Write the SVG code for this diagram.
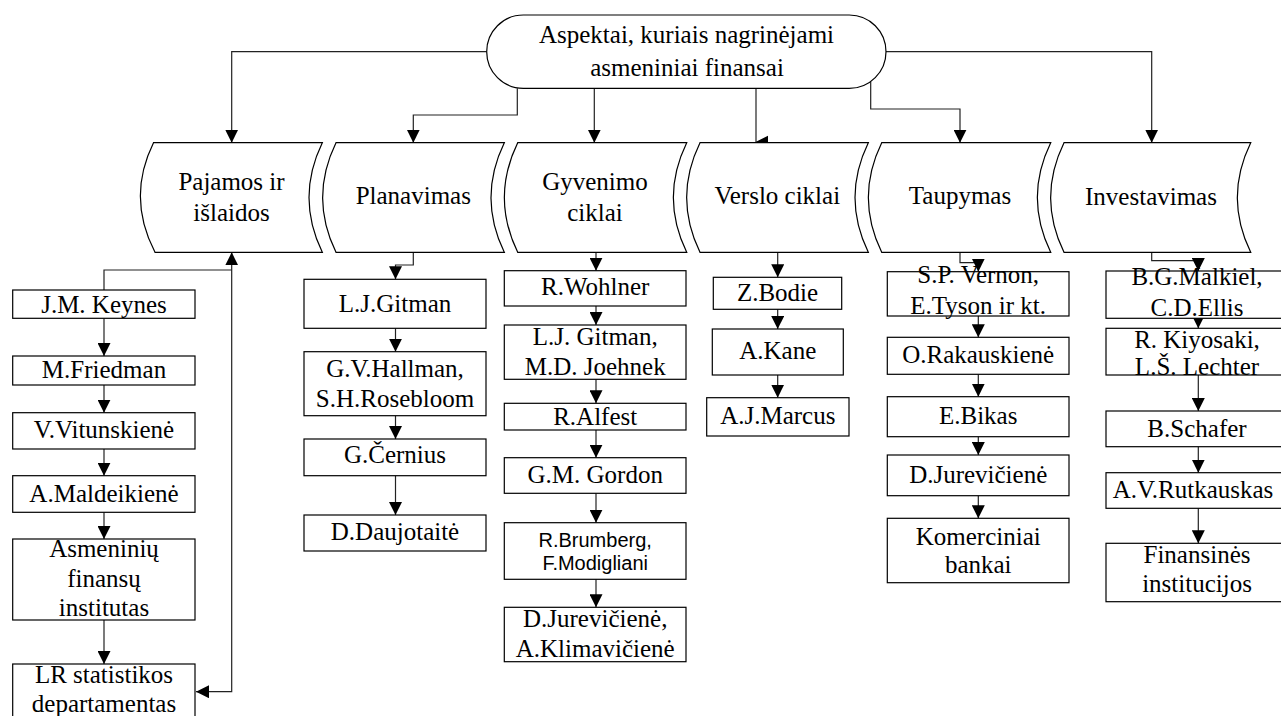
<svg xmlns="http://www.w3.org/2000/svg" width="1281" height="716" viewBox="0 0 1281 716">
<defs>
<style>
.n{fill:#fff;stroke:#000;stroke-width:1.2}
.t{font-family:"Liberation Serif","Times New Roman",serif;font-size:25px;fill:#000;text-anchor:middle}
.s{font-family:"Liberation Sans",Arial,sans-serif;font-size:20px;fill:#000;text-anchor:middle}
.c{fill:none;stroke:#222;stroke-width:1.2}
</style>
<marker id="ah" viewBox="0 0 10 10" refX="10" refY="5" markerWidth="13" markerHeight="13" markerUnits="userSpaceOnUse" orient="auto-start-reverse"><path d="M0,0 L10,5 L0,10 z" fill="#000"/></marker>
</defs>
<rect width="1281" height="716" fill="#fff"/>

<g id="connectors">
<path class="c" marker-end="url(#ah)" d="M486.7,51.7 H231.7 V142.7"/>
<path class="c" marker-end="url(#ah)" d="M517.3,88.3 V115 H413.3 V142.7"/>
<path class="c" marker-end="url(#ah)" d="M594.3,88.3 V142.7"/>
<path class="c" d="M756,88.3 V142.7"/>
<polygon points="754,142.7 768,135.7 768,149.7" fill="#000"/>
<path class="c" marker-end="url(#ah)" d="M870.7,81.5 V109 H960 V142.7"/>
<path class="c" marker-end="url(#ah)" d="M886,51.7 H1151.7 V142.7"/>

<path class="c" marker-start="url(#ah)" marker-end="url(#ah)" d="M196,691.7 H231.7 V252.3"/>
<path class="c" d="M231.7,270 H104 V290"/>
<path class="c" marker-end="url(#ah)" d="M104,318.3 V356"/>
<path class="c" marker-end="url(#ah)" d="M104,385 V412.7"/>
<path class="c" marker-end="url(#ah)" d="M104,449 V475.7"/>
<path class="c" marker-end="url(#ah)" d="M104,512.3 V539"/>
<path class="c" marker-end="url(#ah)" d="M104,620 V664"/>

<path class="c" marker-end="url(#ah)" d="M413.3,252.3 V265 H395.5 V279.3"/>
<path class="c" marker-end="url(#ah)" d="M395.5,328.3 V351.7"/>
<path class="c" marker-end="url(#ah)" d="M395.5,415.7 V439"/>
<path class="c" marker-end="url(#ah)" d="M395.5,475.7 V515"/>

<path class="c" marker-end="url(#ah)" d="M596,252.3 V270.7"/>
<path class="c" marker-end="url(#ah)" d="M596,306 V325"/>
<path class="c" marker-end="url(#ah)" d="M596,379.3 V403.3"/>
<path class="c" marker-end="url(#ah)" d="M596,430 V457.7"/>
<path class="c" marker-end="url(#ah)" d="M596,493.3 V522.7"/>
<path class="c" marker-end="url(#ah)" d="M596,579.3 V607.3"/>

<path class="c" marker-end="url(#ah)" d="M777.7,252.3 V277.3"/>
<path class="c" marker-end="url(#ah)" d="M777.7,309.3 V329"/>
<path class="c" marker-end="url(#ah)" d="M777.7,375 V397.7"/>

<path class="c" marker-end="url(#ah)" d="M960,252.3 V262.7 H978.3 V271.7"/>
<path class="c" marker-end="url(#ah)" d="M978.3,316 V337.3"/>
<path class="c" marker-end="url(#ah)" d="M978.3,374.3 V396.7"/>
<path class="c" marker-end="url(#ah)" d="M978.3,436.7 V455"/>
<path class="c" marker-end="url(#ah)" d="M978.3,495.7 V518.3"/>

<path class="c" marker-end="url(#ah)" d="M1151.7,252.3 V260.7 H1198.3 V271"/>
<path class="c" marker-end="url(#ah)" d="M1198.3,318.3 V328.3"/>
<path class="c" marker-end="url(#ah)" d="M1198.3,375 V411"/>
<path class="c" marker-end="url(#ah)" d="M1198.3,446.7 V472.7"/>
<path class="c" marker-end="url(#ah)" d="M1198.3,508.3 V543.3"/>
</g>

<g id="root">
<rect class="n" x="486.7" y="15" width="399.3" height="73.3" rx="36.7" ry="36.7"/>
<text class="t" x="686.5" y="43.3">Aspektai, kuriais nagrinėjami</text>
<text class="t" x="687" y="76">asmeniniai finansai</text>
</g>

<g id="cat-pajamos">
<path class="n" d="M153.5,142.7 H322.3 Q295.7,197.5 322.3,252.3 H155 Q126.5,197.5 153.5,142.7 Z"/>
<text class="t" x="231.5" y="190">Pajamos ir</text>
<text class="t" x="231.5" y="220.7">išlaidos</text>
</g>
<g id="cat-planavimas">
<path class="n" d="M336,142.7 H504.3 Q477.7,197.5 504.3,252.3 H336 Q309.3,197.5 336,142.7 Z"/>
<text class="t" x="413.3" y="204">Planavimas</text>
</g>
<g id="cat-gyvenimo">
<path class="n" d="M517.7,142.7 H686.7 Q660,197.5 686.7,252.3 H517.7 Q491,197.5 517.7,142.7 Z"/>
<text class="t" x="595" y="190">Gyvenimo</text>
<text class="t" x="595" y="220.7">ciklai</text>
</g>
<g id="cat-verslo">
<path class="n" d="M700,142.7 H868.3 Q841.7,197.5 868.3,252.3 H700 Q673.3,197.5 700,142.7 Z"/>
<text class="t" x="777.3" y="204">Verslo ciklai</text>
</g>
<g id="cat-taupymas">
<path class="n" d="M881.7,142.7 H1050.7 Q1024,197.5 1050.7,252.3 H881.7 Q855,197.5 881.7,142.7 Z"/>
<text class="t" x="960" y="204">Taupymas</text>
</g>
<g id="cat-investavimas">
<path class="n" d="M1064,142.7 H1250.7 Q1224,197.5 1250.7,252.3 H1064 Q1037.3,197.5 1064,142.7 Z"/>
<text class="t" x="1151" y="205">Investavimas</text>
</g>

<g id="c1-keynes"><rect class="n" x="12.7" y="290" width="182.3" height="28.3"/><text class="t" x="104" y="312.7">J.M. Keynes</text></g>
<g id="c1-friedman"><rect class="n" x="12.7" y="356" width="182.3" height="29"/><text class="t" x="104" y="377.7">M.Friedman</text></g>
<g id="c1-vitunskiene"><rect class="n" x="12.7" y="412.7" width="182.3" height="36.3"/><text class="t" x="104" y="438.3">V.Vitunskienė</text></g>
<g id="c1-maldeikiene"><rect class="n" x="12.7" y="475.7" width="182.3" height="36.6"/><text class="t" x="104" y="501.7">A.Maldeikienė</text></g>
<g id="c1-afi"><rect class="n" x="12.7" y="539" width="182.3" height="81"/><text class="t" x="104" y="557">Asmeninių</text><text class="t" x="104" y="587">finansų</text><text class="t" x="104" y="616">institutas</text></g>
<g id="c1-lrsd"><rect class="n" x="12.7" y="664" width="182.3" height="60"/><text class="t" x="104" y="683.3">LR statistikos</text><text class="t" x="104" y="711.7">departamentas</text></g>

<g id="c2-gitman"><rect class="n" x="304" y="279.3" width="182" height="49"/><text class="t" x="395" y="311.7">L.J.Gitman</text></g>
<g id="c2-hallman"><rect class="n" x="304" y="351.7" width="182" height="64"/><text class="t" x="395" y="376.7">G.V.Hallman,</text><text class="t" x="395" y="406.7">S.H.Rosebloom</text></g>
<g id="c2-cernius"><rect class="n" x="304" y="439" width="182" height="36.7"/><text class="t" x="395" y="463.3">G.Černius</text></g>
<g id="c2-daujotaite"><rect class="n" x="304" y="515" width="182" height="36"/><text class="t" x="395" y="540">D.Daujotaitė</text></g>

<g id="c3-wohlner"><rect class="n" x="504.3" y="270.7" width="181.7" height="35.3"/><text class="t" x="595.2" y="295">R.Wohlner</text></g>
<g id="c3-gitman"><rect class="n" x="504.3" y="325" width="181.7" height="54.3"/><text class="t" x="595.2" y="345">L.J. Gitman,</text><text class="t" x="595.2" y="375">M.D. Joehnek</text></g>
<g id="c3-alfest"><rect class="n" x="504.3" y="403.3" width="181.7" height="26.7"/><text class="t" x="595.2" y="425">R.Alfest</text></g>
<g id="c3-gordon"><rect class="n" x="504.3" y="457.7" width="181.7" height="35.6"/><text class="t" x="595.2" y="483.3">G.M. Gordon</text></g>
<g id="c3-brumberg"><rect class="n" x="504.3" y="522.7" width="181.7" height="56.6"/><text class="s" x="595.2" y="546.7">R.Brumberg,</text><text class="s" x="595.2" y="570">F.Modigliani</text></g>
<g id="c3-jureviciene"><rect class="n" x="504.3" y="607.3" width="181.7" height="54.4"/><text class="t" x="595.2" y="626.7">D.Jurevičienė,</text><text class="t" x="595.2" y="656.7">A.Klimavičienė</text></g>

<g id="c4-bodie"><rect class="n" x="713.3" y="277.3" width="128.4" height="32"/><text class="t" x="777.5" y="300.7">Z.Bodie</text></g>
<g id="c4-kane"><rect class="n" x="712.3" y="329" width="131" height="46"/><text class="t" x="777.8" y="359.3">A.Kane</text></g>
<g id="c4-marcus"><rect class="n" x="706.7" y="397.7" width="142.3" height="38.3"/><text class="t" x="777.8" y="424">A.J.Marcus</text></g>

<g id="c5-vernon"><rect class="n" x="887.3" y="271.7" width="181.7" height="44.3"/><text class="t" x="978.2" y="283.3">S.P. Vernon,</text><text class="t" x="978.2" y="314">E.Tyson ir kt.</text></g>
<g id="c5-rakauskiene"><rect class="n" x="887.3" y="337.3" width="181.7" height="37"/><text class="t" x="978.2" y="363.3">O.Rakauskienė</text></g>
<g id="c5-bikas"><rect class="n" x="887.3" y="396.7" width="181.7" height="40"/><text class="t" x="978.2" y="424.3">E.Bikas</text></g>
<g id="c5-jureviciene"><rect class="n" x="887.3" y="455" width="181.7" height="40.7"/><text class="t" x="978.2" y="483.3">D.Jurevičienė</text></g>
<g id="c5-bankai"><rect class="n" x="887.3" y="518.3" width="181.7" height="64.4"/><text class="t" x="978.2" y="545">Komerciniai</text><text class="t" x="978.2" y="573.3">bankai</text></g>

<g id="c6-malkiel"><rect class="n" x="1106" y="271" width="182" height="47.3"/><text class="t" x="1197" y="285">B.G.Malkiel,</text><text class="t" x="1197" y="316">C.D.Ellis</text></g>
<g id="c6-kiyosaki"><rect class="n" x="1106" y="328.3" width="182" height="46.7"/><text class="t" x="1197" y="348.3">R. Kiyosaki,</text><text class="t" x="1197" y="375">L.Š. Lechter</text></g>
<g id="c6-schafer"><rect class="n" x="1106" y="411" width="182" height="35.7"/><text class="t" x="1197" y="436.7">B.Schafer</text></g>
<g id="c6-rutkauskas"><rect class="n" x="1106" y="472.7" width="182" height="35.6"/><text class="t" x="1193" y="498.3">A.V.Rutkauskas</text></g>
<g id="c6-institucijos"><rect class="n" x="1106" y="543.3" width="182" height="58.4"/><text class="t" x="1197" y="563.3">Finansinės</text><text class="t" x="1197" y="591.7">institucijos</text></g>
</svg>
